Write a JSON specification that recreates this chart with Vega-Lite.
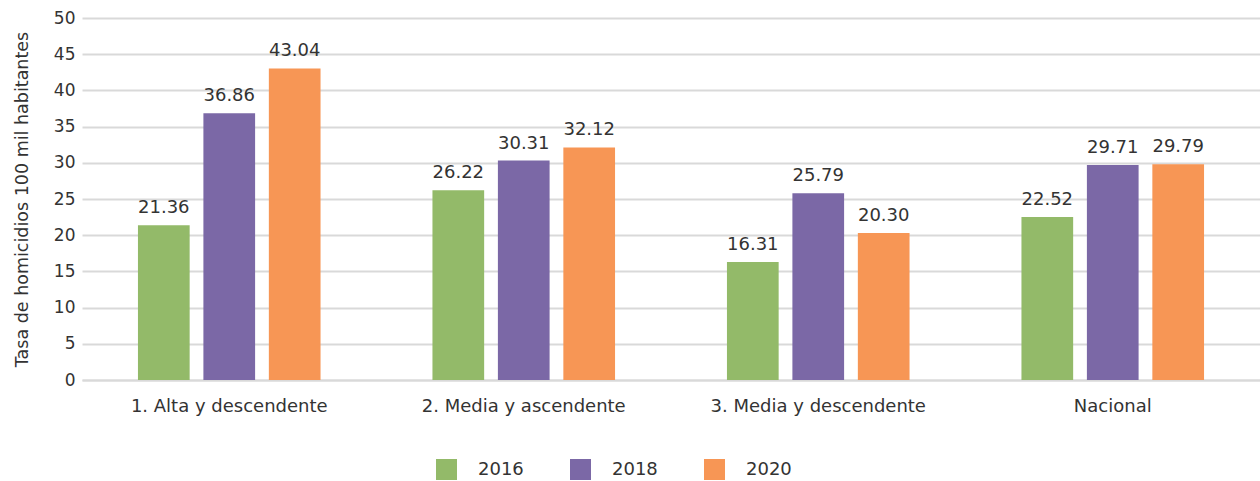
{
  "$schema": "https://vega.github.io/schema/vega-lite/v6.json",
  "width": 1178,
  "height": 362,
  "autosize": {"type": "none"},
  "padding": {"left": 82, "top": 18, "right": 0, "bottom": 101},
  "background": "white",
  "config": {
    "font": "DejaVu Sans",
    "view": {"stroke": null}
  },
  "data": {
    "values": [
      {"grupo": "1. Alta y descendente", "anio": "2016", "tasa": 21.36},
      {"grupo": "1. Alta y descendente", "anio": "2018", "tasa": 36.86},
      {"grupo": "1. Alta y descendente", "anio": "2020", "tasa": 43.04},
      {"grupo": "2. Media y ascendente", "anio": "2016", "tasa": 26.22},
      {"grupo": "2. Media y ascendente", "anio": "2018", "tasa": 30.31},
      {"grupo": "2. Media y ascendente", "anio": "2020", "tasa": 32.12},
      {"grupo": "3. Media y descendente", "anio": "2016", "tasa": 16.31},
      {"grupo": "3. Media y descendente", "anio": "2018", "tasa": 25.79},
      {"grupo": "3. Media y descendente", "anio": "2020", "tasa": 20.30},
      {"grupo": "Nacional", "anio": "2016", "tasa": 22.52},
      {"grupo": "Nacional", "anio": "2018", "tasa": 29.71},
      {"grupo": "Nacional", "anio": "2020", "tasa": 29.79}
    ]
  },
  "encoding": {
    "x": {
      "field": "grupo",
      "type": "nominal",
      "sort": null,
      "scale": {"paddingInner": 0.38, "paddingOuter": 0.19},
      "axis": {
        "title": null,
        "labelAngle": 0,
        "labelFontSize": 18,
        "labelColor": "#333333",
        "labelPadding": 17,
        "labelLimit": 0,
        "ticks": false,
        "domainColor": "#d9d9d9",
        "domainWidth": 2
      }
    },
    "xOffset": {
      "field": "anio",
      "type": "nominal",
      "scale": {"paddingInner": 0.21, "paddingOuter": 0}
    },
    "y": {
      "field": "tasa",
      "type": "quantitative",
      "scale": {"domain": [0, 50]},
      "axis": {
        "title": "Tasa de homicidios 100 mil habitantes",
        "titleFontSize": 17.5,
        "titleFontWeight": "normal",
        "titleColor": "#333333",
        "titlePadding": 22,
        "values": [0, 5, 10, 15, 20, 25, 30, 35, 40, 45, 50],
        "labelFontSize": 17,
        "labelColor": "#333333",
        "labelPadding": 7,
        "ticks": false,
        "domain": false,
        "gridColor": "#d9d9d9",
        "gridWidth": 2
      }
    },
    "color": {
      "field": "anio",
      "type": "nominal",
      "scale": {"domain": ["2016", "2018", "2020"], "range": ["#93BA69", "#7B68A6", "#F79655"]},
      "legend": {
        "title": null,
        "orient": "none",
        "direction": "horizontal",
        "legendX": 354,
        "legendY": 441,
        "symbolType": "square",
        "symbolSize": 441,
        "symbolStrokeWidth": 0,
        "symbolOpacity": 1,
        "labelFontSize": 18,
        "labelColor": "#333333",
        "labelOffset": 21,
        "columnPadding": 46
      }
    }
  },
  "layer": [
    {"mark": {"type": "bar"}},
    {
      "mark": {"type": "text", "dy": -17, "fontSize": 18, "color": "#333333"},
      "encoding": {
        "text": {"field": "tasa", "type": "quantitative", "format": ".2f"},
        "color": {"value": "#333333"}
      }
    }
  ]
}
